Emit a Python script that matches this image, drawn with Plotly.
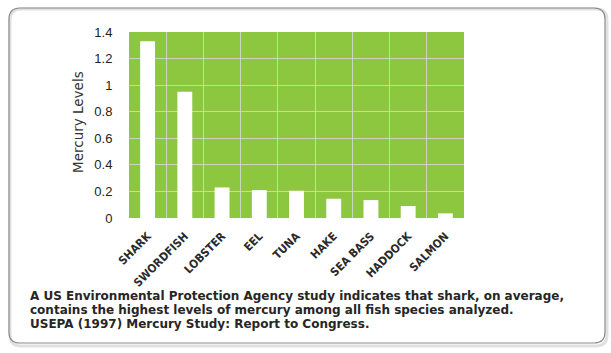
import plotly.graph_objects as go

# ---- data ----
species = ["SHARK", "SWORDFISH", "LOBSTER", "EEL", "TUNA", "HAKE", "SEA BASS", "HADDOCK", "SALMON"]
mercury = [1.33, 0.95, 0.23, 0.21, 0.205, 0.145, 0.135, 0.09, 0.035]
y_ticks = [0, 0.2, 0.4, 0.6, 0.8, 1.0, 1.2, 1.4]
y_tick_text = ["0", "0.2", "0.4", "0.6", "0.8", "1", "1.2", "1.4"]
caption_lines = [
    "A US Environmental Protection Agency study indicates that shark, on average,",
    "contains the highest levels of mercury among all fish species analyzed.",
    "USEPA (1997) Mercury Study: Report to Congress.",
]
y_title = "Mercury Levels"

# ---- layout geometry ----
W, H = 611, 353
L, R, T, B = 129, 147, 32, 135
PW, PH = W - L - R, H - T - B


def px(x):
    return (x - L) / PW


def py(y):
    return (H - B - y) / PH


xs = list(range(len(species)))

fig = go.Figure()
fig.add_trace(go.Bar(
    x=xs, y=mercury, width=0.4,
    marker=dict(color="white", line=dict(width=0)),
    hoverinfo="skip",
))


def rounded_rect(x0, y0, x1, y1, r):
    return (
        f"M {px(x0 + r)},{py(y0)} L {px(x1 - r)},{py(y0)} "
        f"Q {px(x1)},{py(y0)} {px(x1)},{py(y0 + r)} "
        f"L {px(x1)},{py(y1 - r)} "
        f"Q {px(x1)},{py(y1)} {px(x1 - r)},{py(y1)} "
        f"L {px(x0 + r)},{py(y1)} "
        f"Q {px(x0)},{py(y1)} {px(x0)},{py(y1 - r)} "
        f"L {px(x0)},{py(y0 + r)} "
        f"Q {px(x0)},{py(y0)} {px(x0 + r)},{py(y0)} Z"
    )


shapes = [
    dict(type="path", xref="paper", yref="paper", layer="below",
         path=rounded_rect(10, 9, 607, 346, 11),
         line=dict(color="rgba(0,0,0,0.12)", width=3), fillcolor="rgba(0,0,0,0)"),
    dict(type="path", xref="paper", yref="paper", layer="below",
         path=rounded_rect(9, 8, 605, 343, 11),
         line=dict(color="#8a8a8a", width=1.2), fillcolor="rgba(0,0,0,0)"),
]

annotations = [
    dict(text=y_title, x=px(78), y=py(122), xref="paper", yref="paper",
         textangle=-90, showarrow=False,
         font=dict(family="DejaVu Sans", size=13.5, color="#333333"),
         xanchor="center", yanchor="middle"),
]
for i, line in enumerate(caption_lines):
    annotations.append(dict(
        text=line, x=px(28), y=py(296 + i * 14), xref="paper", yref="paper",
        showarrow=False, xanchor="left", yanchor="middle",
        font=dict(family="DejaVu Sans", size=12, color="#262626", weight="bold"),
    ))

fig.update_layout(
    width=W, height=H,
    margin=dict(l=L, r=R, t=T, b=B, pad=0),
    paper_bgcolor="white",
    plot_bgcolor="#8dc63f",
    showlegend=False,
    shapes=shapes,
    annotations=annotations,
    bargap=0.6,
)
fig.update_xaxes(
    range=[-0.5, len(species) - 0.5],
    tickmode="array", tickvals=xs, ticktext=species,
    tickangle=-45,
    tickfont=dict(family="DejaVu Sans Condensed, sans-serif",
                  size=11.5, color="#2a2a2a", weight="bold"),
    showgrid=False, zeroline=False, showline=False,
    ticks="outside", ticklen=6, tickcolor="rgba(0,0,0,0)",
    minor=dict(tickvals=[i + 0.5 for i in xs[:-1]], showgrid=True,
               gridcolor="rgba(215,215,215,0.85)", gridwidth=1, ticks=""),
    fixedrange=True,
)
fig.update_yaxes(
    range=[0, 1.4],
    tickmode="array", tickvals=y_ticks, ticktext=y_tick_text,
    tickfont=dict(family="Liberation Sans, Arial, sans-serif", size=13,
                  color="#222222"),
    showgrid=True, gridcolor="rgba(215,215,215,0.85)", gridwidth=1,
    zeroline=False, showline=False,
    ticks="outside", ticklen=13, tickcolor="rgba(0,0,0,0)",
    fixedrange=True,
)

fig.write_html("out.html", config=dict(displayModeBar=False))
